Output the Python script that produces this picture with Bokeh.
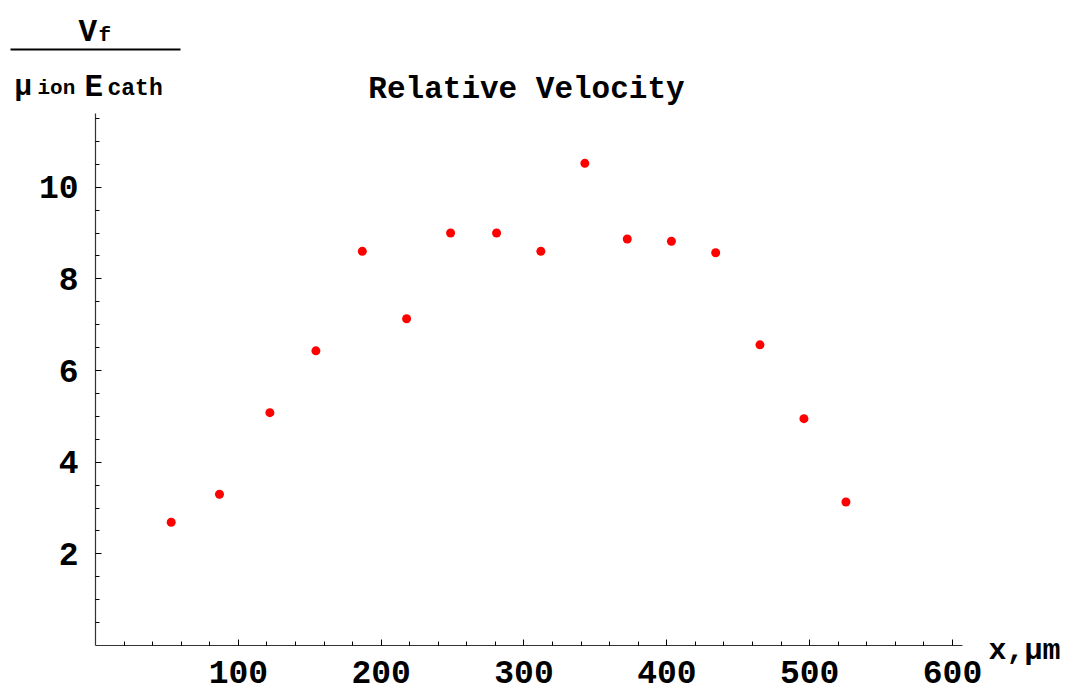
from bokeh.plotting import figure
from bokeh.models import Range1d, FixedTicker, Label, BoxAnnotation
from bokeh.embed import file_html
from bokeh.resources import INLINE

# Data
x_um = [53.0, 86.8, 122.1, 154.3, 186.8, 217.8, 248.6, 280.8, 311.8, 342.6,
        372.3, 403.2, 434.2, 465.2, 496.0, 525.4]
rel_vel = [2.69, 3.30, 5.08, 6.43, 8.60, 7.13, 9.00, 9.00, 8.60, 10.52,
           8.87, 8.82, 8.57, 6.56, 4.95, 3.13]

x_major = [100, 200, 300, 400, 500, 600]
x_minor = [v for v in range(20, 601, 20) if v % 100 != 0]
y_major = [2, 4, 6, 8, 10]
y_minor = [v / 2 for v in range(1, 24) if v % 4 != 0]
x_axis_end = 607.0
y_axis_end = 11.6

FONT = "Liberation Mono"

# canvas size and where the axes' origin sits on the canvas
W, H = 1078, 692
OX, OY = 95, 645          # pixel of the (0, 0) corner
SX, SY = 1.42833, 45.83   # pixels per data unit

# the frame spans the whole canvas; axes are pinned at x=0 / y=0
x_rng = Range1d(-OX / SX, (W - OX) / SX)
y_rng = Range1d(-(H - OY) / SY, OY / SY)

p = figure(width=W, height=H, output_backend="svg", toolbar_location=None,
           x_range=x_rng, y_range=y_rng,
           min_border_left=0, min_border_right=0,
           min_border_top=0, min_border_bottom=0)
p.outline_line_color = None
p.xgrid.visible = False
p.ygrid.visible = False
p.background_fill_color = "white"
p.border_fill_color = "white"

p.scatter(x_um, rel_vel, size=9, color="#ff0000", line_color=None)

for ax, maj, mnr, end in ((p.xaxis[0], x_major, x_minor, x_axis_end),
                          (p.yaxis[0], y_major, y_minor, y_axis_end)):
    ax.fixed_location = 0
    ax.bounds = (0, end)
    ax.ticker = FixedTicker(ticks=maj, minor_ticks=mnr)
    ax.axis_line_color = "#333333"
    ax.axis_line_width = 1.2
    ax.major_tick_line_color = "black"
    ax.minor_tick_line_color = "black"
    ax.major_tick_in = 6
    ax.major_tick_out = 0
    ax.minor_tick_in = 4
    ax.minor_tick_out = 0
    ax.major_label_text_font = FONT
    ax.major_label_text_font_style = "bold"
    ax.major_label_text_font_size = "33px"
    ax.major_label_text_color = "black"

p.xaxis[0].major_label_standoff = 15
p.yaxis[0].major_label_standoff = 17

def lab(text, sx, sy, size, align="left"):
    p.add_layout(Label(x=sx, y=sy, x_units="canvas", y_units="canvas", text=text,
                       text_font=FONT, text_font_style="bold",
                       text_font_size=size, text_align=align,
                       text_baseline="alphabetic", text_color="black"))

# title
lab("Relative Velocity", 526, 89, "31px", "center")
# x axis label
lab("x,μm", 988, 650, "30px")
# y axis label as a fraction
lab("V", 78, 32, "31px")
lab("f", 98, 35, "21px")
lab("μ", 14, 87, "29px")
lab("ion", 37, 88, "21px")
lab("E", 84, 87, "31px")
lab("cath", 107, 88, "23px")
p.add_layout(BoxAnnotation(left=10, right=180, top=48, bottom=50,
                           left_units="canvas", right_units="canvas",
                           top_units="canvas", bottom_units="canvas",
                           fill_color="black", fill_alpha=1, line_color=None))

open("out.html", "w").write(file_html(p, INLINE))
